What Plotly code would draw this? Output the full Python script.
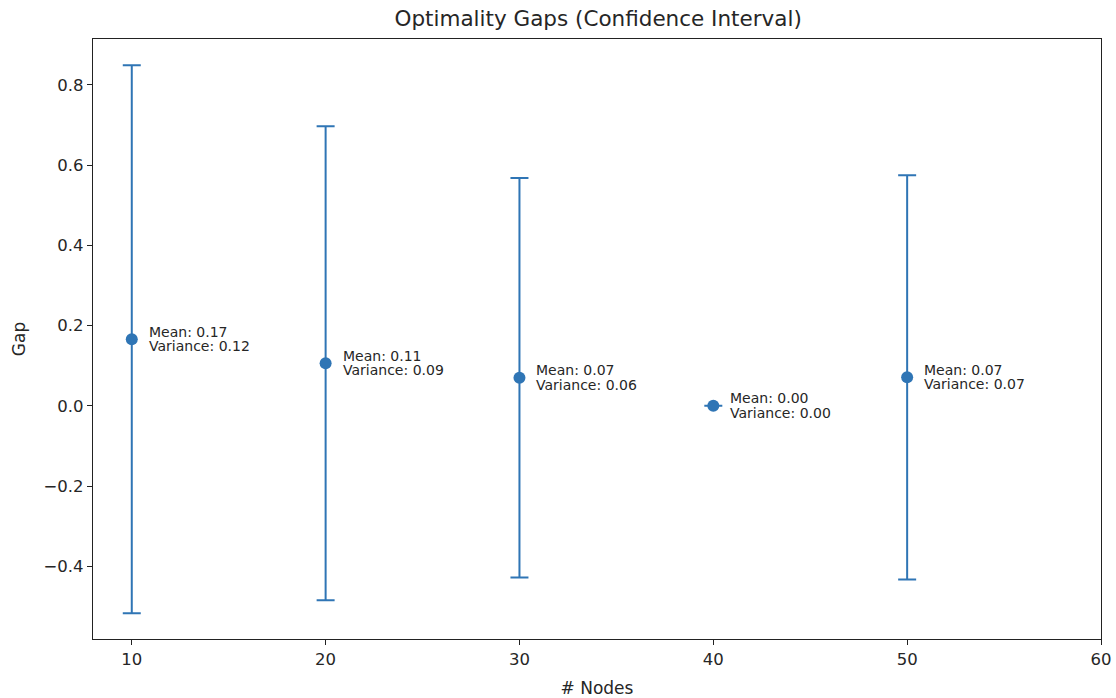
import plotly.graph_objects as go

# Number of nodes per experiment
nodes = [10, 20, 30, 40, 50]
# Mean optimality gap per node count
mean_gap = [0.166, 0.106, 0.070, 0.000, 0.071]
# Variance of the gap
variance = [0.12, 0.09, 0.06, 0.00, 0.07]
# Half-width of the confidence interval
ci_half = [0.683, 0.591, 0.498, 0.000, 0.504]

x_ticks = [10, 20, 30, 40, 50, 60]
y_ticks = [-0.4, -0.2, 0.0, 0.2, 0.4, 0.6, 0.8]

color = "#2f75b5"
text_color = "#262626"
font_family = "DejaVu Sans"

fig = go.Figure()
fig.add_trace(go.Scatter(
    x=nodes,
    y=mean_gap,
    mode="markers",
    marker=dict(color=color, size=12),
    error_y=dict(type="data", array=ci_half, visible=True,
                 color=color, thickness=2, width=9),
    showlegend=False,
    hoverinfo="skip",
))

# Two-line label next to each point: mean on top, variance below
for xv, m, v in zip(nodes, mean_gap, variance):
    for line, shift in ((f"Mean: {m:.2f}", 7.5), (f"Variance: {v:.2f}", -7.0)):
        fig.add_annotation(
            x=xv, y=m, xref="x", yref="y",
            text=line,
            showarrow=False, xanchor="left", yanchor="middle",
            xshift=15, yshift=shift, align="left",
            font=dict(family=font_family, size=14, color=text_color),
        )

axis_common = dict(
    showline=True, linecolor="#222", linewidth=1.2, mirror=True,
    ticks="outside", ticklen=5, tickcolor="#222", tickwidth=1,
    showgrid=False, zeroline=False, automargin=False,
    tickfont=dict(family=font_family, size=16.5, color=text_color),
)

fig.update_layout(
    width=1116, height=698,
    margin=dict(l=93, r=15, t=39, b=59),
    paper_bgcolor="white", plot_bgcolor="white",
    title=dict(text="Optimality Gaps (Confidence Interval)", x=0.536, xanchor="center",
               y=0.973, yanchor="middle",
               font=dict(family=font_family, size=21.5, color=text_color)),
    xaxis=dict(range=[8, 60], tickvals=x_ticks,
               title=dict(text="# Nodes", standoff=14,
                          font=dict(family=font_family, size=17, color=text_color)),
               **axis_common),
    yaxis=dict(range=[-0.5815, 0.9146], tickvals=y_ticks, tickformat=".1f",
               title=dict(text="Gap", standoff=13,
                          font=dict(family=font_family, size=17, color=text_color)),
               **axis_common),
)

fig.write_html("out.html")
